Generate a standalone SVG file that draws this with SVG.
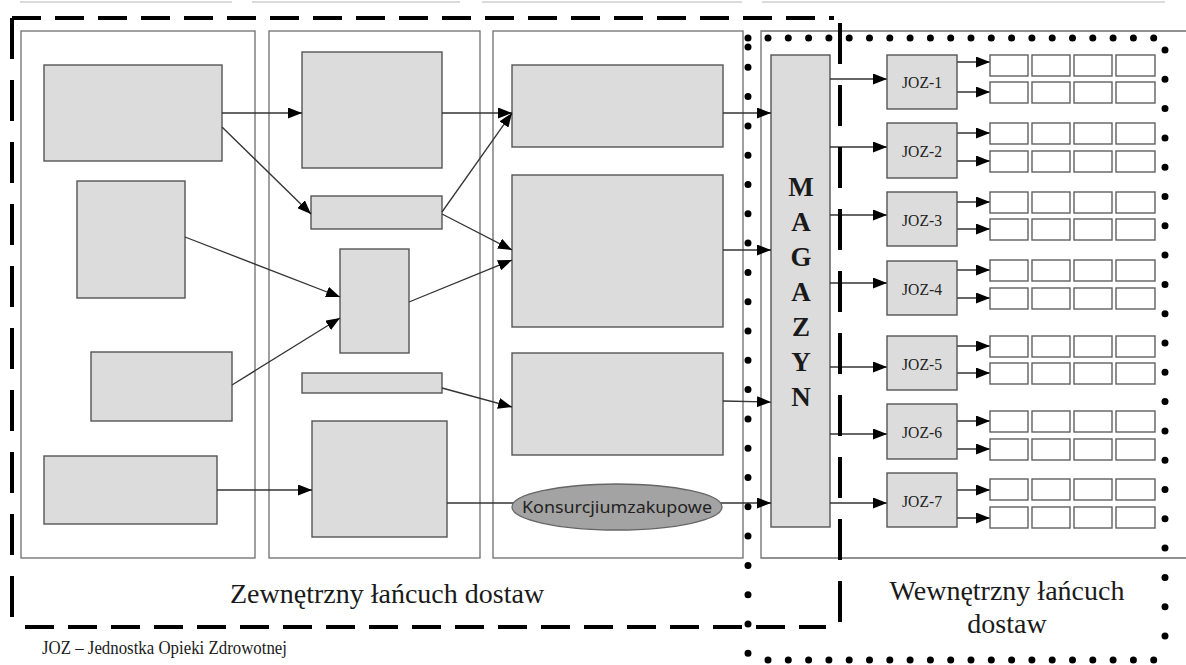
<svg xmlns="http://www.w3.org/2000/svg" width="1186" height="665" viewBox="0 0 1186 665">
  <style>
    .panel { fill: none; stroke: #6e6e6e; stroke-width: 1.3; }
    .box { fill: #dcdcdc; stroke: #555; stroke-width: 1.4; }
    .cell { fill: #fff; stroke: #606060; stroke-width: 1.4; }
    .conn { fill: none; stroke: #333; stroke-width: 1.3; }
    .dash-h { fill: none; stroke: #000; stroke-width: 4; stroke-dasharray: 29 14; }
    .dash-v { fill: none; stroke: #000; stroke-width: 4; stroke-dasharray: 41 21; }
    .dot-h { fill: none; stroke: #000; stroke-width: 7; stroke-linecap: round; stroke-dasharray: 0 20.3; }
    .dot-v { fill: none; stroke: #000; stroke-width: 7; stroke-linecap: round; stroke-dasharray: 0 29.3; }
  </style>
  <defs>
    <marker id="arrow" viewBox="0 0 14 11" refX="14" refY="5.5" markerWidth="14" markerHeight="11" markerUnits="userSpaceOnUse" orient="auto">
      <path d="M0,0 L14,5.5 L0,11 z" fill="#000"/>
    </marker>
    <g id="cellrow">
      <rect class="cell" x="0" y="0" width="38" height="21"/>
      <rect class="cell" x="42" y="0" width="38" height="21"/>
      <rect class="cell" x="84" y="0" width="38" height="21"/>
      <rect class="cell" x="126" y="0" width="39" height="21"/>
    </g>
  </defs>

  <rect width="1186" height="665" fill="#fff"/>

  <!-- faint rules along the upper edge -->
  <g stroke="#cfcfcf" stroke-width="1.5">
    <line x1="20" y1="2" x2="232" y2="2"/>
    <line x1="252" y1="2" x2="460" y2="2"/>
    <line x1="482" y1="2" x2="742" y2="2"/>
    <line x1="762" y1="2" x2="1165" y2="2"/>
  </g>

  <!-- column panels -->
  <g id="panels">
    <rect class="panel" x="21" y="31" width="234" height="527"/>
    <rect class="panel" x="269" y="31" width="211" height="527"/>
    <rect class="panel" x="493" y="31" width="250" height="527"/>
    <path class="panel" d="M1186,31 H761 V558 H1186"/>
  </g>

  <!-- column 1 -->
  <g id="node-a"><rect class="box" x="44" y="65" width="178" height="96"/></g>
  <g id="node-b"><rect class="box" x="77" y="181" width="108" height="117"/></g>
  <g id="node-c"><rect class="box" x="91" y="352" width="141" height="69"/></g>
  <g id="node-d"><rect class="box" x="44" y="456" width="173" height="68"/></g>

  <!-- column 2 -->
  <g id="node-e"><rect class="box" x="302" y="52" width="140" height="116"/></g>
  <g id="node-f"><rect class="box" x="311" y="196" width="131" height="33"/></g>
  <g id="node-g"><rect class="box" x="340" y="249" width="69" height="104"/></g>
  <g id="node-h"><rect class="box" x="302" y="373" width="140" height="20"/></g>
  <g id="node-i"><rect class="box" x="312" y="421" width="135" height="116"/></g>

  <!-- column 3 -->
  <g id="node-j"><rect class="box" x="512" y="65" width="211" height="82"/></g>
  <g id="node-k"><rect class="box" x="512" y="175" width="211" height="152"/></g>
  <g id="node-l"><rect class="box" x="512" y="353" width="211" height="102"/></g>

  <!-- warehouse -->
  <g id="magazyn" font-family="'Liberation Serif', 'Times New Roman', serif" font-size="27" font-weight="bold" fill="#1a1a1a" text-anchor="middle">
    <rect class="box" x="771" y="55" width="59" height="472"/>
    <text x="801" y="196">M</text>
    <text x="801" y="231">A</text>
    <text x="801" y="266">G</text>
    <text x="801" y="301">A</text>
    <text x="801" y="336">Z</text>
    <text x="801" y="371">Y</text>
    <text x="801" y="406">N</text>
  </g>

  <!-- connectors -->
  <g id="connectors" class="conn" marker-end="url(#arrow)">
    <line x1="222" y1="113" x2="302" y2="113"/>
    <line x1="222" y1="127" x2="311" y2="214"/>
    <line x1="185" y1="237" x2="340" y2="297"/>
    <line x1="232" y1="385" x2="340" y2="318"/>
    <line x1="442" y1="113" x2="512" y2="113"/>
    <line x1="442" y1="212" x2="512" y2="113"/>
    <line x1="442" y1="214" x2="512" y2="250"/>
    <line x1="409" y1="302" x2="512" y2="260"/>
    <line x1="442" y1="388" x2="512" y2="407"/>
    <line x1="217" y1="490" x2="312" y2="490"/>
    <line x1="447" y1="503" x2="771" y2="503"/>
    <line x1="723" y1="113" x2="771" y2="113"/>
    <line x1="723" y1="250" x2="771" y2="250"/>
    <line x1="723" y1="401" x2="771" y2="402"/>
    <!-- warehouse to care units -->
    <line x1="830" y1="79" x2="887" y2="79"/>
    <line x1="830" y1="147" x2="887" y2="147"/>
    <line x1="830" y1="215" x2="887" y2="215"/>
    <line x1="830" y1="283" x2="887" y2="283"/>
    <line x1="830" y1="367" x2="887" y2="367"/>
    <line x1="830" y1="434" x2="887" y2="434"/>
    <line x1="830" y1="503" x2="887" y2="503"/>
    <!-- care units to cells -->
    <line x1="957" y1="62" x2="990" y2="62"/>
    <line x1="957" y1="92" x2="990" y2="92"/>
    <line x1="957" y1="133" x2="990" y2="133"/>
    <line x1="957" y1="161" x2="990" y2="161"/>
    <line x1="957" y1="202" x2="990" y2="202"/>
    <line x1="957" y1="229" x2="990" y2="229"/>
    <line x1="957" y1="270" x2="990" y2="270"/>
    <line x1="957" y1="298" x2="990" y2="298"/>
    <line x1="957" y1="346" x2="990" y2="346"/>
    <line x1="957" y1="373" x2="990" y2="373"/>
    <line x1="957" y1="421" x2="990" y2="421"/>
    <line x1="957" y1="449" x2="990" y2="449"/>
    <line x1="957" y1="490" x2="990" y2="490"/>
    <line x1="957" y1="518" x2="990" y2="518"/>
  </g>

  <!-- purchasing consortium -->
  <g id="konsorcjum">
    <ellipse cx="617" cy="507" rx="105" ry="23" fill="#a3a3a3" stroke="#666" stroke-width="1.3"/>
    <text x="617" y="513" font-family="'Noto Sans', 'Open Sans', sans-serif" font-size="17" fill="#222" text-anchor="middle" textLength="190" lengthAdjust="spacingAndGlyphs">Konsurcjiumzakupowe</text>
  </g>

  <!-- care units -->
  <g id="care-units" font-family="'Liberation Serif', 'Times New Roman', serif" font-size="16" fill="#222" text-anchor="middle">
    <g id="joz-1"><rect class="box" x="887" y="55" width="70" height="54"/><text x="922" y="88" textLength="40" lengthAdjust="spacingAndGlyphs">JOZ-1</text></g>
    <g id="joz-2"><rect class="box" x="887" y="123" width="70" height="55"/><text x="922" y="157" textLength="40" lengthAdjust="spacingAndGlyphs">JOZ-2</text></g>
    <g id="joz-3"><rect class="box" x="887" y="192" width="70" height="54"/><text x="922" y="226" textLength="40" lengthAdjust="spacingAndGlyphs">JOZ-3</text></g>
    <g id="joz-4"><rect class="box" x="887" y="261" width="70" height="54"/><text x="922" y="295" textLength="40" lengthAdjust="spacingAndGlyphs">JOZ-4</text></g>
    <g id="joz-5"><rect class="box" x="887" y="336" width="70" height="54"/><text x="922" y="370" textLength="40" lengthAdjust="spacingAndGlyphs">JOZ-5</text></g>
    <g id="joz-6"><rect class="box" x="887" y="404" width="70" height="55"/><text x="922" y="438" textLength="40" lengthAdjust="spacingAndGlyphs">JOZ-6</text></g>
    <g id="joz-7"><rect class="box" x="887" y="473" width="70" height="54"/><text x="922" y="507" textLength="40" lengthAdjust="spacingAndGlyphs">JOZ-7</text></g>
  </g>

  <!-- cell rows, one pair per care unit -->
  <g id="cells">
    <use href="#cellrow" x="990" y="55"/>
    <use href="#cellrow" x="990" y="82"/>
    <use href="#cellrow" x="990" y="123"/>
    <use href="#cellrow" x="990" y="151"/>
    <use href="#cellrow" x="990" y="192"/>
    <use href="#cellrow" x="990" y="219"/>
    <use href="#cellrow" x="990" y="260"/>
    <use href="#cellrow" x="990" y="288"/>
    <use href="#cellrow" x="990" y="336"/>
    <use href="#cellrow" x="990" y="363"/>
    <use href="#cellrow" x="990" y="411"/>
    <use href="#cellrow" x="990" y="439"/>
    <use href="#cellrow" x="990" y="479"/>
    <use href="#cellrow" x="990" y="507"/>
  </g>

  <!-- external chain boundary (dashed) -->
  <g id="external-boundary">
    <path class="dash-h" d="M12,18 H834"/>
    <path class="dash-h" d="M25,627 H826"/>
    <path class="dash-v" d="M12,18 V627"/>
    <path class="dash-v" d="M840,23 V628"/>
  </g>

  <!-- internal chain boundary (dotted) -->
  <g id="internal-boundary">
    <path class="dot-v" d="M748,38 V660"/>
    <path class="dot-h" d="M768,38 H1165"/>
    <path class="dot-v" d="M1165,50 V660"/>
    <path class="dot-h" d="M768,660 H1165"/>
    <circle cx="748" cy="47" r="3.5" fill="#000"/>
  </g>

  <!-- labels -->
  <g id="labels" font-family="'Liberation Serif', 'Times New Roman', serif" fill="#1a1a1a">
    <text x="230" y="603" font-size="28">Zewnętrzny łańcuch dostaw</text>
    <text x="1007" y="600" font-size="28" text-anchor="middle">Wewnętrzny łańcuch</text>
    <text x="1007" y="633" font-size="28" text-anchor="middle">dostaw</text>
    <text x="42" y="654" font-size="19" textLength="245" lengthAdjust="spacingAndGlyphs">JOZ – Jednostka Opieki Zdrowotnej</text>
  </g>
</svg>
